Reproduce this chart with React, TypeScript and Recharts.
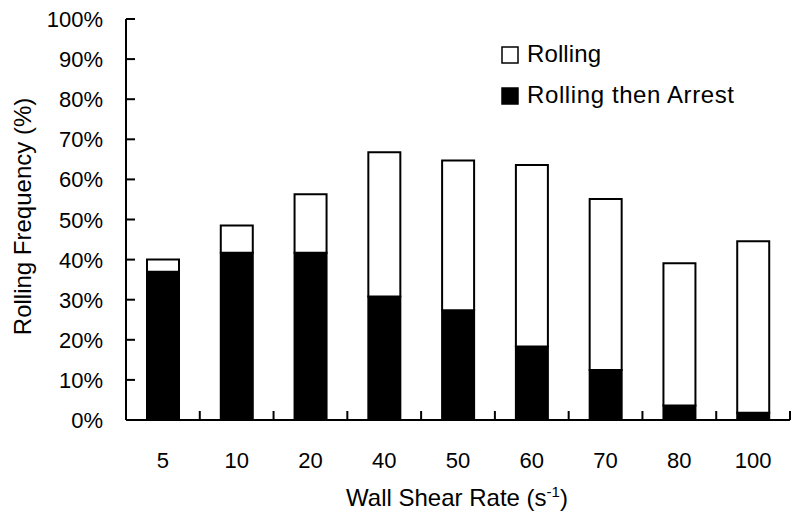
import React from 'react';
import { BarChart, Bar, XAxis, YAxis, Legend } from 'recharts';

const shearRates = ['5', '10', '20', '40', '50', '60', '70', '80', '100'];
const rollingThenArrest = [37, 41.7, 41.7, 30.8, 27.4, 18.3, 12.5, 3.6, 1.8];
const rollingOnly = [3, 6.8, 14.6, 36, 37.3, 45.3, 42.6, 35.5, 42.8];
const yTicks = [0, 10, 20, 30, 40, 50, 60, 70, 80, 90, 100];

const data = shearRates.map((rate, i) => ({
  rate,
  arrest: rollingThenArrest[i],
  rolling: rollingOnly[i],
}));

const FONT = '"Liberation Sans", Arial, sans-serif';

// tick marks point into the plot, so they are drawn with the labels
const YTick = (props: any) => {
  const x = Number(props.x);
  const y = Number(props.y);
  return (
    <g>
      <path d={`M${x},${y}h9`} stroke="#000" strokeWidth={2} fill="none" />
      <text x={x - 23} y={y + 8} textAnchor="end" fontSize={22} fontFamily={FONT} fill="#000">
        {`${props.payload.value}%`}
      </text>
    </g>
  );
};

const XTick = (props: any) => {
  const x = Number(props.x);
  const y = Number(props.y);
  const off = Number(props.payload.offset) || 0;
  const edge = x + off;
  return (
    <g>
      <path d={`M${edge},${y}v-9`} stroke="#000" strokeWidth={2} fill="none" />
      <text x={x} y={y + 48} textAnchor="middle" fontSize={22} fontFamily={FONT} fill="#000">
        {props.payload.value}
      </text>
    </g>
  );
};

const LegendBox = () => (
  <svg width={300} height={80}>
    <rect x={7} y={7} width={16} height={16} fill="#fff" stroke="#000" strokeWidth={1.5} />
    <text x={32} y={22} fontSize={24} fontFamily={FONT} fill="#000" textLength={74}>Rolling</text>
    <rect x={7} y={48} width={16} height={16} fill="#000" stroke="#000" strokeWidth={1.5} />
    <text x={32} y={63} fontSize={24} fontFamily={FONT} fill="#000" textLength={207}>
      Rolling then Arrest
    </text>
  </svg>
);

export default function App() {
  return (
    <div style={{ position: 'absolute', left: 0, top: 0, width: 800, height: 529, background: '#fff' }}>
      <BarChart
        width={800}
        height={529}
        data={data}
        margin={{ top: 19, right: 10, bottom: 29, left: 16 }}
        barSize={32}
      >
        <XAxis
          dataKey="rate"
          height={80}
          tickSize={0}
          tickMargin={0}
          tickLine={false}
          tick={<XTick />}
          axisLine={{ stroke: '#000', strokeWidth: 2 }}
          interval={0}
          label={{
            content: ({ viewBox }: any) => (
              <text
                x={viewBox.x + viewBox.width / 2 - 1}
                y={viewBox.y + 86}
                textAnchor="middle"
                fontSize={24}
                fontFamily={FONT}
                fill="#000"
              >
                Wall Shear Rate (s
                <tspan dy={-9} fontSize={15}>-1</tspan>
                <tspan dy={9}>)</tspan>
              </text>
            ),
          }}
        />
        <YAxis
          width={110}
          domain={[0, 100]}
          ticks={yTicks}
          tickSize={0}
          tickMargin={0}
          tickLine={false}
          tick={<YTick />}
          axisLine={{ stroke: '#000', strokeWidth: 2 }}
          label={{
            content: ({ viewBox }: any) => {
              const cx = viewBox.x + 6;
              const cy = viewBox.y + viewBox.height / 2 - 3;
              return (
                <text
                  x={cx}
                  y={cy}
                  transform={`rotate(-90 ${cx} ${cy})`}
                  textAnchor="middle"
                  dominantBaseline="central"
                  fontSize={24}
                  fontFamily={FONT}
                  fill="#000"
                >
                  Rolling Frequency (%)
                </text>
              );
            },
          }}
        />
        <Legend
          layout="vertical"
          align="center"
          verticalAlign="middle"
          content={<LegendBox />}
          wrapperStyle={{ left: 495, top: 40, width: 300, height: 80 }}
        />
        <Bar dataKey="arrest" name="Rolling then Arrest" stackId="s" fill="#000" stroke="#000" strokeWidth={2} isAnimationActive={false} />
        <Bar dataKey="rolling" name="Rolling" stackId="s" fill="#fff" stroke="#000" strokeWidth={2} isAnimationActive={false} />
      </BarChart>
    </div>
  );
}
